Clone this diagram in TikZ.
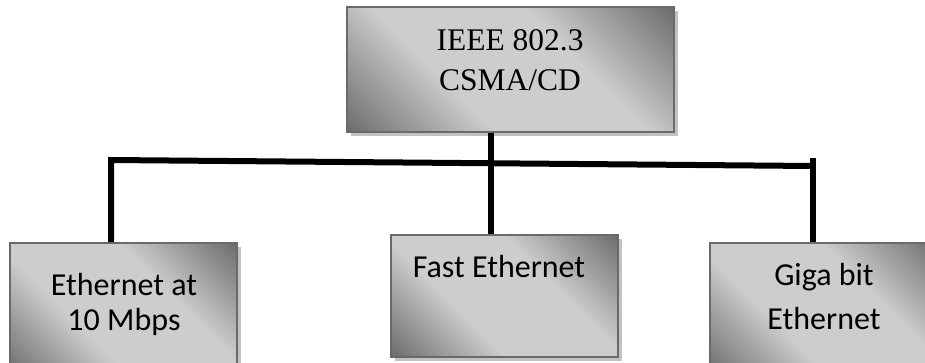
\documentclass[tikz,border=0pt]{standalone}
\usepackage{fontspec}
\setmainfont{Liberation Serif}
\newfontfamily\calibrifont{Carlito}
\usetikzlibrary{shadows}
\definecolor{boxdark}{HTML}{6A6A6A}
\definecolor{boxlight}{HTML}{CDCDCD}
\definecolor{boxedge}{HTML}{6A6A6A}
\definecolor{shadowgray}{HTML}{C2C2C2}
\pgfdeclareverticalshading{boxgrad}{100bp}{color(0bp)=(boxdark); color(14bp)=(boxdark); color(38bp)=(boxlight); color(62bp)=(boxlight); color(86bp)=(boxdark); color(100bp)=(boxdark)}
\tikzset{
  gbox/.style={rectangle, draw=boxedge, line width=2pt,
    shading=boxgrad, shading angle=-45,
    general shadow={fill=shadowgray, shadow xshift=4pt, shadow yshift=-4pt},
    inner sep=0pt},
  conn/.style={line width=6pt, black},
  seriflabel/.style={anchor=base, inner sep=0pt, font=\fontsize{31.5}{38}\selectfont},
  sanslabel/.style={anchor=base, inner sep=0pt, font=\calibrifont\fontsize{32}{38}\selectfont},
}
\begin{document}
\begin{tikzpicture}[x=1pt,y=-1pt]
\useasboundingbox (0,0) rectangle (925,362);
% boxes
\node[gbox, minimum width=327pt, minimum height=125pt] (top) at (510.5,69.5) {};
\node[gbox, minimum width=227pt, minimum height=132pt] (left) at (123.5,309) {};
\node[gbox, minimum width=227pt, minimum height=122pt] (mid) at (504.5,296) {};
\node[gbox, minimum width=230pt, minimum height=132pt] (right) at (825,309) {};
% labels
\node[seriflabel] (t1) at (510,50) {IEEE 802.3};
\node[seriflabel] (t2) at (510,90) {CSMA/CD};
\node[sanslabel] (l1) at (124,295) {Ethernet at};
\node[sanslabel] (l2) at (124,330) {10 Mbps};
\node[sanslabel] (m1) at (499,277) {Fast Ethernet};
\node[sanslabel] (r1) at (824,285) {Giga bit};
\node[sanslabel] (r2) at (824,329) {Ethernet};
% connectors
\coordinate (jl) at (111,160);
\coordinate (jr) at (813,166);
\coordinate (jm) at (491,163);
\coordinate (rt) at (813,158);
\draw[conn] (jl |- left.north) -- (jl) -- (jr);
\draw[conn] (jm |- top.south) -- (jm |- mid.north);
\draw[conn] (rt) -- (rt |- right.north);
\end{tikzpicture}
\end{document}
